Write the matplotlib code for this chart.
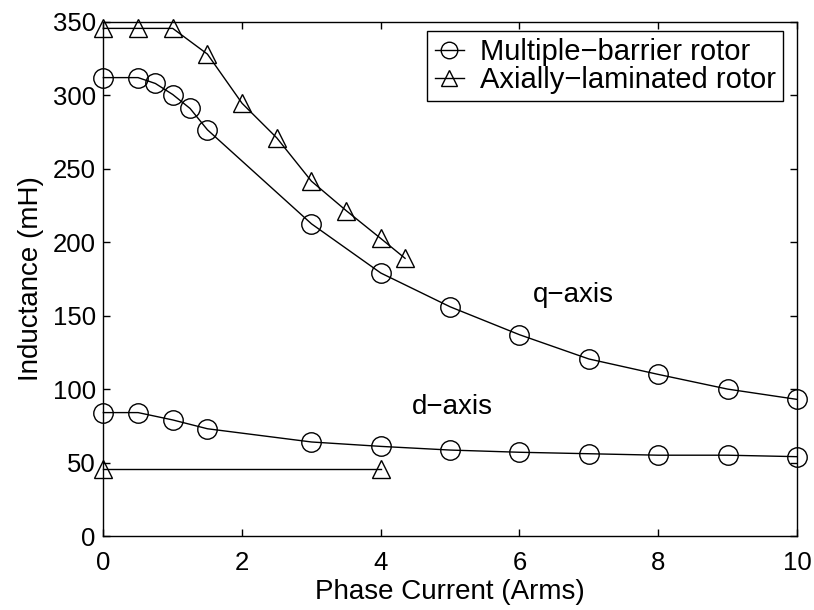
"""Inductance vs phase current, two rotor types (MATLAB-style)."""
import matplotlib
matplotlib.use('Agg')
import matplotlib.pyplot as plt

plt.rcParams['font.family'] = ['Liberation Sans', 'DejaVu Sans']

# multiple-barrier rotor
mb_q_x = [0, 0.5, 0.75, 1.0, 1.25, 1.5, 3, 4, 5, 6, 7, 8, 9, 10]
mb_q_y = [312, 312, 308, 300.5, 291, 276.5, 212.5, 179, 156, 137, 120.5, 110, 100, 93]
mb_d_x = [0, 0.5, 1.0, 1.5, 3, 4, 5, 6, 7, 8, 9, 10]
mb_d_y = [84, 84, 79, 73, 64, 61, 58.5, 57, 56, 55, 55, 54]

# axially-laminated rotor
al_q_x = [0, 0.5, 1.0, 1.5, 2.0, 2.5, 3.0, 3.5, 4.0, 4.35]
al_q_y = [345.5, 345.5, 345.5, 328, 294.5, 271, 241.5, 221.5, 202.5, 189]
al_d_x = [0, 4]
al_d_y = [45.5, 45.5]

fs = 20
fig = plt.figure(figsize=(8.14, 6.10), dpi=100)
ax = fig.add_axes([0.127, 0.1213, 0.852, 0.843])

circ = dict(color='k', lw=1, marker='o', ms=14, mfc='none', mec='k', mew=1)
tri = dict(color='k', lw=1, marker='^', ms=13, mfc='none', mec='k', mew=1)

ax.plot(mb_q_x, mb_q_y, label='Multiple\u2212barrier rotor', clip_on=False, **circ)
ax.plot(al_q_x, al_q_y, label='Axially\u2212laminated rotor', clip_on=False, **tri)
ax.plot(mb_d_x, mb_d_y, clip_on=False, **circ)
ax.plot(al_d_x, al_d_y, clip_on=False, **tri)

ax.text(6.2, 164, 'q\u2212axis', fontsize=fs, va='center')
ax.text(4.45, 88, 'd\u2212axis', fontsize=fs, va='center')

ax.set_xlim(0, 10)
ax.set_ylim(0, 350)
ax.set_xticks([0, 2, 4, 6, 8, 10])
ax.set_yticks(range(0, 351, 50))
ax.tick_params(direction='in', top=True, right=True, length=5, width=1,
               labelsize=18.5)
ax.tick_params(axis='x', pad=10.5)
ax.tick_params(axis='y', pad=5.5)
for s in ax.spines.values():
    s.set_linewidth(1)

ax.set_xlabel('Phase Current (Arms)', fontsize=fs, labelpad=3)
ax.set_ylabel('Inductance (mH)', fontsize=fs, labelpad=6)

leg = ax.legend(loc='upper right', bbox_to_anchor=(0.98, 0.983), borderaxespad=0,
                fontsize=21, fancybox=False, framealpha=1, edgecolor='k',
                handlelength=1.0, handletextpad=0.55, labelspacing=0.0,
                borderpad=0.25, markerscale=0.85)
leg.get_frame().set_linewidth(1)

fig.savefig('out.png', dpi=100)
